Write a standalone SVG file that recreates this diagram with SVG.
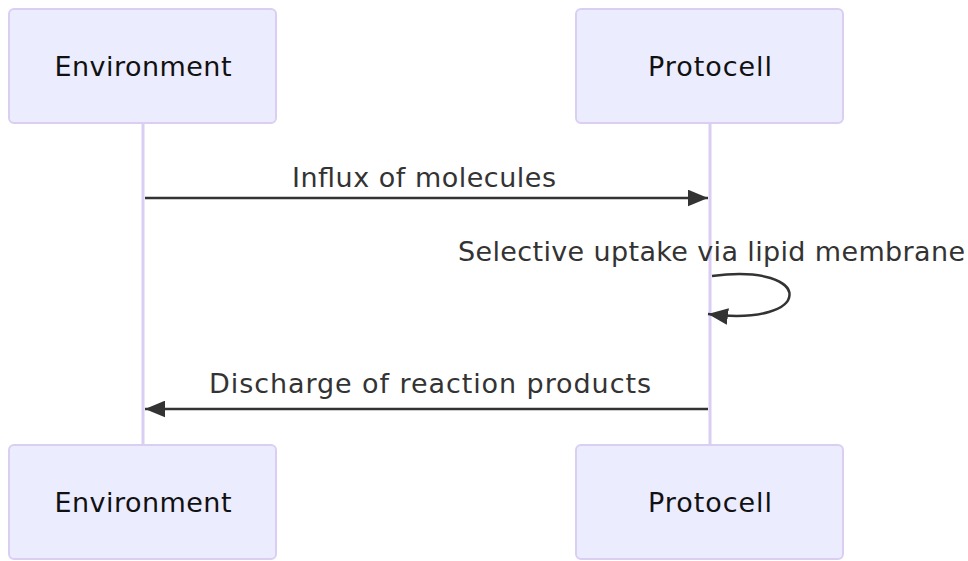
<svg xmlns="http://www.w3.org/2000/svg" width="968" height="561" viewBox="0 0 968 561">
  <style>
    .actor { fill: #ececff; stroke: #dacef3; stroke-width: 2; }
    .actor-label { font-family: "DejaVu Sans", "Liberation Sans", Arial, sans-serif; font-size: 27px; fill: #111; text-anchor: middle; dominant-baseline: central; }
    .lifeline { stroke: #dacef3; stroke-width: 3; fill: none; }
    .msg { stroke: #333; stroke-width: 2.5; fill: none; }
    .msg-label { font-family: "DejaVu Sans", "Liberation Sans", Arial, sans-serif; font-size: 27px; fill: #333; text-anchor: middle; dominant-baseline: central; }
  </style>
  <defs>
    <marker id="arrowhead" viewBox="0 0 12 10" refX="12" refY="5" markerUnits="userSpaceOnUse" markerWidth="20" markerHeight="17" orient="auto">
      <path d="M0,0 L12,5 L0,10 Z" fill="#333"/>
    </marker>
  </defs>
  <rect width="968" height="561" fill="#ffffff"/>

  <!-- lifelines -->
  <g id="lifelines">
    <line class="lifeline" x1="143" y1="123" x2="143" y2="445"/>
    <line class="lifeline" x1="710" y1="123" x2="710" y2="445"/>
  </g>

  <!-- participants, top row -->
  <g id="environment-top">
    <rect class="actor" x="9" y="9" width="267" height="114" rx="5"/>
    <text class="actor-label" x="143" y="66" textLength="177">Environment</text>
  </g>
  <g id="protocell-top">
    <rect class="actor" x="576" y="9" width="267" height="114" rx="5"/>
    <text class="actor-label" x="710" y="66" textLength="124">Protocell</text>
  </g>

  <!-- participants, bottom row -->
  <g id="environment-bottom">
    <rect class="actor" x="9" y="445" width="267" height="114" rx="5"/>
    <text class="actor-label" x="143" y="502" textLength="177">Environment</text>
  </g>
  <g id="protocell-bottom">
    <rect class="actor" x="576" y="445" width="267" height="114" rx="5"/>
    <text class="actor-label" x="710" y="502" textLength="124">Protocell</text>
  </g>

  <!-- messages -->
  <g id="messages">
    <text class="msg-label" x="424" y="177" textLength="264">Influx of molecules</text>
    <line class="msg" x1="145" y1="198" x2="708" y2="198" marker-end="url(#arrowhead)"/>

    <text class="msg-label" x="711.5" y="251" textLength="507">Selective uptake via lipid membrane</text>
    <path class="msg" d="M712,276 C816,262 816,328 708,314" marker-end="url(#arrowhead)"/>

    <text class="msg-label" x="430" y="383" textLength="442">Discharge of reaction products</text>
    <line class="msg" x1="708" y1="409" x2="145" y2="409" marker-end="url(#arrowhead)"/>
  </g>
</svg>
